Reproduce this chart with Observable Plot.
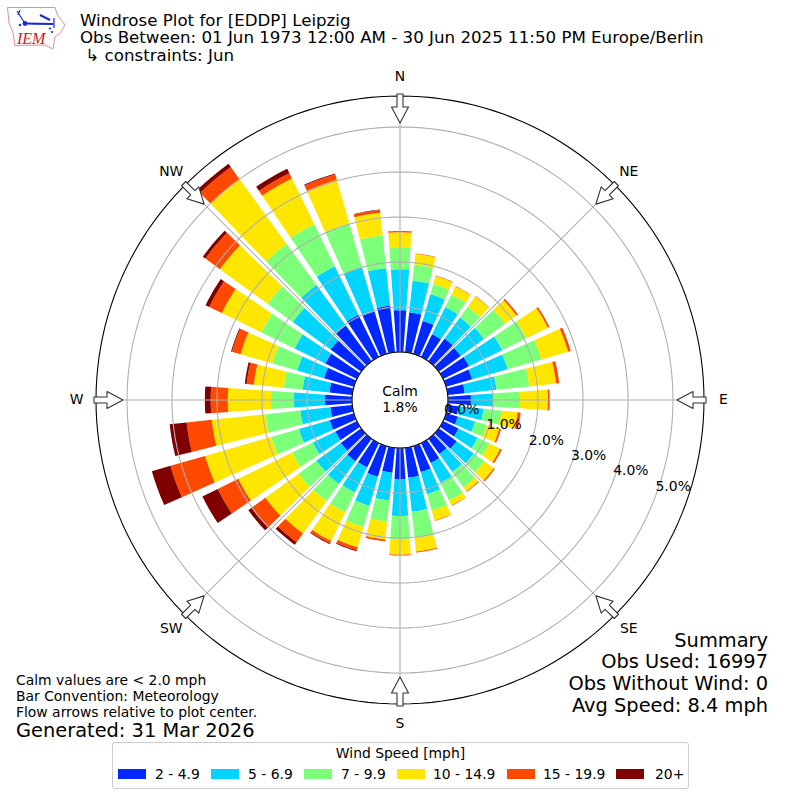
<!DOCTYPE html>
<html>
<head>
<meta charset="utf-8">
<script src="https://cdn.jsdelivr.net/npm/d3@7"></script>
<script src="https://cdn.jsdelivr.net/npm/@observablehq/plot@0.6"></script>
<style>
html,body{margin:0;padding:0;background:#fff}
#page{position:relative;width:800px;height:800px;overflow:hidden;font-family:"DejaVu Sans",sans-serif;color:#000}
#page svg.chart{position:absolute;left:0;top:0}
.t{position:absolute;white-space:pre;line-height:1}
#legend{position:absolute;left:112px;top:742px;width:575px;height:45px;border:1px solid #ccc;border-radius:3px;background:#fff}
.sw{position:absolute;top:26px;width:28px;height:10px}
</style>
</head>
<body>
<div id="page"></div>
<script>
const directions = d3.range(0, 360, 10);
const speedClasses = ["2 - 4.9", "5 - 6.9", "7 - 9.9", "10 - 14.9", "15 - 19.9", "20+"];
const classColors = ["#0028ff", "#00d4ff", "#7cff79", "#ffe600", "#ff4800", "#800000"];
// percent of observations, per direction 0..350 degrees
const speed2to5 = [.93,.89,.76,.56,.62,.60,.64,.60,.38,.51,.24,.27,.38,.49,.42,.49,.60,.67,.69,.56,.71,.60,.62,.56,.53,.56,.49,.60,.51,.69,.78,.84,.98,1.04,.98,1.04];
const speed5to7 = [.91,.71,.62,.67,.58,.64,.82,.82,.71,.49,.56,.40,.47,.47,.49,.49,.51,.76,.82,.62,.67,.62,.62,.67,.56,.71,.67,.69,.60,.62,.76,1.04,1.11,1.20,1.02,.84];
const speed7to10 = [.49,.36,.24,.31,.29,.58,.60,.78,.73,.60,.40,.27,.29,.29,.42,.44,.38,.58,.53,.47,.49,.49,.47,.49,.51,.64,.78,.51,.42,.58,.82,.69,1.13,1.04,1.02,.73];
const speed10to15 = [.33,.24,.18,.20,.29,.31,.53,.62,.60,.62,.36,.29,.27,.26,.11,.12,.23,.31,.33,.40,.47,.71,.89,.91,1.33,1.53,1.20,.96,.67,.73,.98,1.31,1.78,1.13,1.00,.51];
const speed15to20 = [.03,.01,.01,.01,.01,.04,.04,.06,.07,.04,.07,.04,.04,.03,.02,.01,.01,.02,.02,.04,.07,.06,.24,.38,.51,.80,.56,.38,.16,.20,.31,.40,.33,.13,.13,.06];
const speed20up = [0,0,0,0,0,0,0,0,0,0,0,0,0,0,0,0,0,0,0,0,.02,.02,.07,.09,.38,.43,.38,.13,.04,.02,.09,.07,.09,.11,.02,.01];
const classValues = [speed2to5, speed5to7, speed7to10, speed10to15, speed15to20, speed20up];

const ringTicks = [0, 1, 2, 3, 4, 5];
const compass = [["N",0],["NE",45],["E",90],["SE",135],["S",180],["SW",225],["W",270],["NW",315]];
const calmLabel = "Calm\n1.8%";
const titleLines = ["Windrose Plot for [EDDP] Leipzig","Obs Between: 01 Jun 1973 12:00 AM - 30 Jun 2025 11:50 PM Europe/Berlin"," \u21b3 constraints: Jun"];
const summaryLines = ["Summary","Obs Used: 16997","Obs Without Wind: 0","Avg Speed: 8.4 mph"];
const noteLines = ["Calm values are < 2.0 mph","Bar Convention: Meteorology","Flow arrows relative to plot center."];
const generated = "Generated: 31 Mar 2026";
const legendTitle = "Wind Speed [mph]";

// geometry: 45px per percent, hole of 48px, frame of 304px
const hole = 48/45, frame = 304/45, labelR = 323.5/45;
const rad = Math.PI/180;
const P = (r, deg) => ({x: r*Math.sin(deg*rad), y: r*Math.cos(deg*rad)});
const barHalf = 4;

const segs = [];
directions.forEach((dir, i) => {
  let base = 0;
  classValues.forEach((vals, c) => {
    const v = vals[i];
    if (v > 0) {
      const key = dir + "-" + c, pts = [];
      for (let a = -barHalf; a <= barHalf; a += 1) pts.push({...P(hole+base, dir+a), key, cls: speedClasses[c]});
      for (let a = barHalf; a >= -barHalf; a -= 1) pts.push({...P(hole+base+v, dir+a), key, cls: speedClasses[c]});
      segs.push(...pts);
    }
    base += v;
  });
});
const circle = (r, key) => d3.range(0, 361, 2).map(a => ({...P(r, a), key}));
const rings = ringTicks.flatMap(t => circle(hole+t, "r"+t));
const spokes = compass.flatMap(([n, d]) => [{...P(hole, d), key:n}, {...P(frame, d), key:n}]);
// flow arrow outline: radial offset (px from frame) and half width (px)
const arrowOutline = [[2,-3],[-11,-3],[-11,-8.5],[-27,0],[-11,8.5],[-11,3],[2,3]];
const arrows = compass.flatMap(([n, d]) => arrowOutline.map(([dr, w]) => {
  const r = (304+dr)/45, u = P(r, d), s = w/45;
  return {x: u.x + s*Math.cos(d*rad), y: u.y - s*Math.sin(d*rad), key:n};
}));

const chart = Plot.plot({
  width: 800, height: 800, margin: 0,
  style: {fontFamily: '"DejaVu Sans", sans-serif', background: "transparent", overflow: "visible"},
  x: {domain: [-frame, frame], range: [95.5, 703.5], axis: null},
  y: {domain: [-frame, frame], range: [703.5, 95.5], axis: null},
  color: {domain: speedClasses, range: classColors},
  marks: [
    Plot.line(segs, {x:"x", y:"y", z:"key", fill:"cls", stroke:"none", curve:"linear-closed"}),
    Plot.line(rings, {x:"x", y:"y", z:"key", stroke:"#b0b0b0", strokeWidth:1.1}),
    Plot.line(spokes, {x:"x", y:"y", z:"key", stroke:"#b0b0b0", strokeWidth:1.1}),
    Plot.line(circle(frame, "outer"), {x:"x", y:"y", z:"key", stroke:"#000", strokeWidth:1.1}),
    Plot.line(circle(hole, "hole"), {x:"x", y:"y", z:"key", stroke:"#000", strokeWidth:1.1}),
    Plot.line(arrows, {x:"x", y:"y", z:"key", fill:"#fff", stroke:"#333", strokeWidth:1.1, curve:"linear-closed"}),
    Plot.text(compass, {x:d=>P(labelR,d[1]).x, y:d=>P(labelR,d[1]).y, text:d=>d[0], fontSize:13.9, fill:"#000"}),
    Plot.text(ringTicks, {x:d=>P(hole+d,110).x, y:d=>P(hole+d,110).y, text:d=>d.toFixed(1)+"%", textAnchor:"start", lineAnchor:"bottom", dx:-1, dy:-2.5, fontSize:13.9, fill:"#000"}),
    Plot.text([calmLabel], {x:()=>0, y:()=>0, dy:-1.5, text:d=>d, fontSize:13.9, fill:"#000", lineHeight:1.15})
  ]
});
chart.classList.add("chart");
const page = document.getElementById("page");
page.appendChild(chart);

function put(parent, text, css) {
  const e = document.createElement("div");
  e.className = "t"; e.textContent = text; e.style.cssText = css;
  parent.appendChild(e); return e;
}
put(page, titleLines.join("\n"), "left:80px;top:12px;font-size:16.67px;line-height:17.4px");
[631, 652, 674, 696].forEach((top, i) => put(page, summaryLines[i], `right:32px;top:${top}px;font-size:19.4px`));
put(page, noteLines.join("\n"), "left:16px;top:672px;font-size:13.9px;line-height:16px");
put(page, generated, "left:16px;top:721px;font-size:19.4px");

const legend = document.createElement("div"); legend.id = "legend"; page.appendChild(legend);
put(legend, legendTitle, "left:0;width:575px;text-align:center;top:4px;font-size:13.9px");
const swatchX = [5, 98, 191, 284, 394, 503], labelX = [42, 135, 228, 320, 430, 542];
speedClasses.forEach((c, i) => {
  const s = document.createElement("div"); s.className = "sw";
  s.style.left = swatchX[i]+"px"; s.style.background = classColors[i]; legend.appendChild(s);
  put(legend, c, `left:${labelX[i]}px;top:25px;font-size:13.9px`);
});

// IEM logo
const logo = document.createElementNS("http://www.w3.org/2000/svg","svg");
logo.setAttribute("width","70"); logo.setAttribute("height","55");
logo.style.cssText = "position:absolute;left:0;top:0";
logo.innerHTML = `<path d="M7.5 7.5 L55 7.5 L57.5 15 L65 25 L60 33 L55 37 L53 49 L45 45 L15 45.5 L13 33 L9 23 Z" fill="none" stroke="#e07070" stroke-width="0.8"/>
<path d="M25 23.5 L54 24 M17 11 L25 23.5 M20 10 L18 15 M54 18 L54 28" fill="none" stroke="#1a2bd0" stroke-width="1.2"/>
<path d="M25 23.5 L53 24 M40 15 L50 20" fill="none" stroke="#1a2bd0" stroke-width="2"/>
<circle cx="25" cy="23.5" r="2.4" fill="#1a2bd0"/><circle cx="20" cy="25" r="1.2" fill="#1a2bd0"/><circle cx="50" cy="28.5" r="1.1" fill="#1a2bd0"/><circle cx="52" cy="32" r="1.1" fill="#1a2bd0"/>
<text x="17" y="44" font-family="Liberation Serif,serif" font-style="italic" font-size="16" fill="#d02020">IEM</text>`;
page.appendChild(logo);
</script>
</body>
</html>
